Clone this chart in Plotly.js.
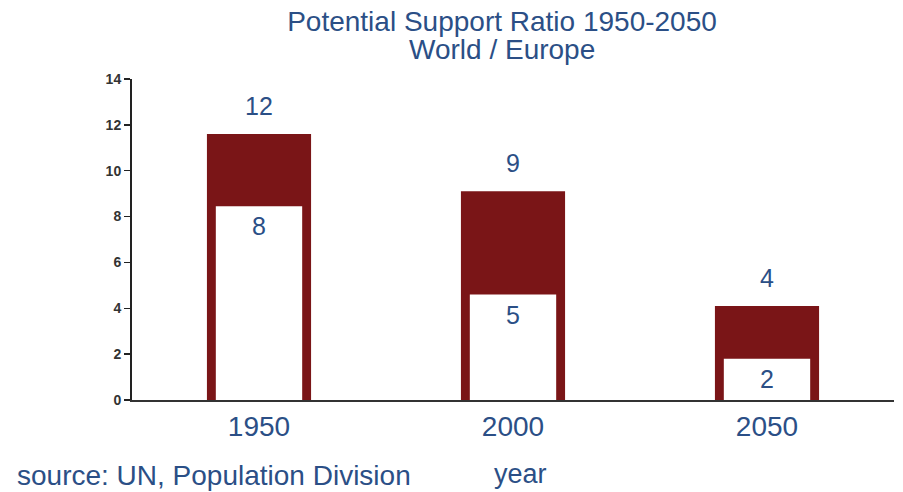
<!DOCTYPE html>
<html>
<head>
<meta charset="utf-8">
<script src="https://cdn.plot.ly/plotly-3.0.1.min.js"></script>
<style>html,body{margin:0;padding:0;background:#fff;}#chart{width:903px;height:492px;}</style>
</head>
<body>
<div id="chart"></div>
<script>
const years = ['1950', '2000', '2050'];
const worldValues = [11.6, 9.1, 4.1];
const europeValues = [8.45, 4.6, 1.8];
const worldLabels = ['12', '9', '4'];
const europeLabels = ['8', '5', '2'];
const yTicks = [0, 2, 4, 6, 8, 10, 12, 14];

const BLUE = '#2b4f86';
const RED = '#7a1517';
const FONT = 'Liberation Sans, Arial, sans-serif';

const xPos = years.map((_, i) => i);

const traces = [
  {type: 'bar', name: 'World', x: xPos, y: worldValues, width: 0.41,
   marker: {color: RED, line: {width: 0}}, hoverinfo: 'y'},
  {type: 'bar', name: 'Europe', x: xPos, y: europeValues, width: 0.34,
   marker: {color: '#ffffff', line: {width: 0}}, hoverinfo: 'y'}
];

const annotations = [];
xPos.forEach((xp, i) => {
  annotations.push({x: xp, y: worldValues[i], xref: 'x', yref: 'y', text: worldLabels[i],
    showarrow: false, xanchor: 'center', yanchor: 'middle', yshift: 28,
    font: {size: 25, color: BLUE, family: FONT}});
  annotations.push({x: xp, y: europeValues[i], xref: 'x', yref: 'y', text: europeLabels[i],
    showarrow: false, xanchor: 'center', yanchor: 'middle', yshift: -20,
    font: {size: 25, color: BLUE, family: FONT}});
});
annotations.push({xref: 'paper', yref: 'paper', x: (502 - 132) / 762, y: (400 - 49) / 321,
  text: 'World / Europe', showarrow: false, xanchor: 'center', yanchor: 'middle',
  font: {size: 28, color: BLUE, family: FONT}});
annotations.push({xref: 'paper', yref: 'paper', x: (15 - 132) / 762, y: (400 - 475) / 321,
  text: 'source: UN, Population Division', showarrow: false, xanchor: 'left', yanchor: 'middle',
  font: {size: 28, color: BLUE, family: FONT}});
annotations.push({xref: 'paper', yref: 'paper', x: (520 - 132) / 762, y: (400 - 474) / 321,
  text: 'year', showarrow: false, xanchor: 'center', yanchor: 'middle',
  font: {size: 27, color: BLUE, family: FONT}});

const layout = {
  width: 903, height: 492,
  margin: {l: 132, r: 9, t: 79, b: 92, pad: 0},
  paper_bgcolor: '#ffffff', plot_bgcolor: '#ffffff',
  showlegend: false,
  barmode: 'overlay',
  title: {text: 'Potential Support Ratio 1950-2050', x: 502 / 903, xanchor: 'center',
    y: 1 - 21 / 492, yanchor: 'middle', font: {size: 28, color: BLUE, family: FONT}},
  xaxis: {range: [-0.5, 2.5], tickvals: xPos, ticktext: years, showline: true,
    linecolor: '#333333', linewidth: 2, ticks: '', showgrid: false, zeroline: false,
    ticklabelstandoff: 0, tickfont: {size: 28, color: BLUE, family: FONT}},
  yaxis: {range: [0, 14], tickvals: yTicks, ticktext: yTicks.map(String), showline: true,
    linecolor: '#222222', linewidth: 2, ticks: 'outside', ticklen: 6, tickwidth: 1.5, tickcolor: '#222222',
    showgrid: false, zeroline: false,
    tickfont: {size: 14, color: '#333333', family: FONT, weight: 'bold'}},
  annotations: annotations
};

Plotly.newPlot('chart', traces, layout, {displayModeBar: false, staticPlot: true});
</script>
</body>
</html>
